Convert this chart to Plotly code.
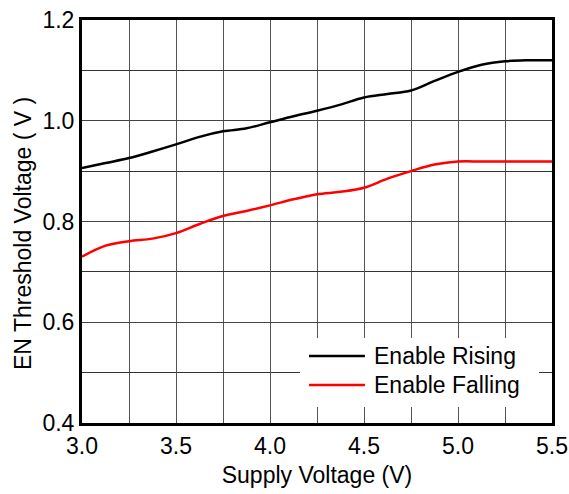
import plotly.graph_objects as go

supply_voltage = [3.0, 3.125, 3.25, 3.375, 3.5, 3.625, 3.75, 3.875, 4.0, 4.125, 4.25,
                  4.375, 4.5, 4.625, 4.75, 4.875, 5.0, 5.125, 5.25, 5.375, 5.5]
enable_rising = [0.906, 0.916, 0.926, 0.939, 0.953, 0.968, 0.979, 0.985, 0.997, 1.009, 1.020,
                 1.032, 1.046, 1.053, 1.060, 1.079, 1.097, 1.111, 1.118, 1.120, 1.120]
enable_falling = [0.730, 0.752, 0.761, 0.766, 0.777, 0.795, 0.811, 0.821, 0.832, 0.844, 0.854,
                  0.859, 0.867, 0.885, 0.900, 0.913, 0.919, 0.919, 0.919, 0.919, 0.919]
series_names = ["Enable Rising", "Enable Falling"]
series_colors = ["black", "#ff0000"]

FONT = "Liberation Sans, Arial, sans-serif"
FS = 23

fig = go.Figure()
for name, ys, col in zip(series_names, [enable_rising, enable_falling], series_colors):
    fig.add_trace(go.Scatter(x=supply_voltage, y=ys, mode="lines", name=name, showlegend=False,
                             line=dict(color=col, width=2.5, shape="spline", smoothing=1.0)))

# custom legend (white box hiding the grid, long line samples)
fig.add_shape(type="rect", xref="paper", yref="paper", x0=0.4638, x1=0.9723, y0=0.0397, y1=0.2109,
              fillcolor="white", line=dict(width=0), layer="above")
legend_rows = [0.1663, 0.0943]
for name, col, yy in zip(series_names, series_colors, legend_rows):
    fig.add_shape(type="line", xref="paper", yref="paper", x0=0.483, x1=0.602, y0=yy, y1=yy,
                  line=dict(color=col, width=2.5), layer="above")
    fig.add_annotation(text=name, xref="paper", yref="paper", x=0.617, y=yy, xanchor="left",
                       yanchor="middle", showarrow=False, font=dict(size=FS, color="black"))

# y axis title
fig.add_annotation(text="EN Threshold Voltage ( V )", xref="paper", yref="paper", x=-0.1255, y=0.469,
                   xanchor="center", yanchor="middle", textangle=-90, showarrow=False,
                   font=dict(size=FS, color="black"))

fig.update_layout(
    width=569, height=494,
    margin=dict(l=82, r=17, t=20, b=71),
    paper_bgcolor="white", plot_bgcolor="white",
    font=dict(family=FONT, size=FS, color="black"),
    xaxis=dict(range=[3.0, 5.5], dtick=0.5, tick0=3.0, tickformat=".1f", automargin=False,
               ticklabeloverflow="allow",
               showgrid=True, gridcolor="#555", gridwidth=1,
               minor=dict(dtick=0.25, showgrid=True, gridcolor="#555", gridwidth=1),
               showline=True, linecolor="black", linewidth=3, mirror=True,
               ticks="", zeroline=False,
               title=dict(text="Supply Voltage (V)", font=dict(size=FS), standoff=10)),
    yaxis=dict(range=[0.4, 1.2], dtick=0.2, tick0=0.4, tickformat=".1f", automargin=False,
               ticklabeloverflow="allow",
               showgrid=True, gridcolor="#444", gridwidth=1,
               minor=dict(dtick=0.1, showgrid=True, gridcolor="#333", gridwidth=1),
               showline=True, linecolor="black", linewidth=3, mirror=True,
               ticks="", zeroline=False),
)

fig.write_html("out.html", config={"displayModeBar": False},
               post_script="document.body.style.margin='0';document.body.style.overflow='hidden';")
